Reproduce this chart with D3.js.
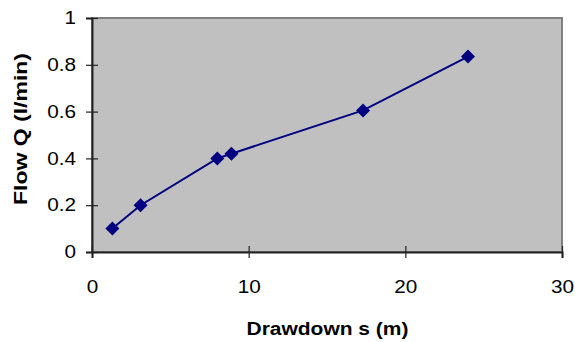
<!DOCTYPE html>
<html>
<head>
<meta charset="utf-8">
<script src="https://cdn.jsdelivr.net/npm/d3@7"></script>
<style>
  body { margin: 0; background: #fff; }
  svg { display: block; font-family: Arial, "Liberation Sans", sans-serif; }
</style>
</head>
<body>
<svg id="chart" width="575" height="342"></svg>
<script>
'use strict';

const drawdown = [1.3, 3.1, 8.0, 8.9, 17.3, 24.0];
const flow = [0.1, 0.2, 0.4, 0.42, 0.605, 0.835];
const xTicks = [0, 10, 20, 30];
const yTicks = [0, 0.2, 0.4, 0.6, 0.8, 1];

const svg = d3.select("#chart");
const plot = { left: 92, right: 562, top: 18, bottom: 252 };
const stretch = 1.15; // text in the original is a bit wide

const x = d3.scaleLinear().domain([0, 30]).range([plot.left, plot.right]);
const y = d3.scaleLinear().domain([0, 1]).range([plot.bottom, plot.top]);

// plot area
svg.append("rect")
  .attr("x", plot.left).attr("y", plot.top)
  .attr("width", plot.right - plot.left).attr("height", plot.bottom - plot.top)
  .attr("fill", "#c0c0c0")
  .attr("stroke", "#808080")
  .attr("stroke-width", 2);

// axes
const xAxis = d3.axisBottom(x).tickValues(xTicks).tickSize(6).tickPadding(22).tickFormat(d3.format("d"));
const yAxis = d3.axisLeft(y).tickValues(yTicks).tickSize(6).tickPadding(10).tickFormat(d => d === 0 || d === 1 ? d : d3.format(".1f")(d));

const gx = svg.append("g").attr("transform", `translate(0,${plot.bottom})`).call(xAxis);
const gy = svg.append("g").attr("transform", `translate(${plot.left},0)`).call(yAxis);

[gx, gy].forEach(g => {
  g.select(".domain").attr("stroke", "#222").attr("stroke-width", 2);
  g.selectAll(".tick line").attr("stroke", "#222").attr("stroke-width", 1.2);
  g.selectAll(".tick text").attr("fill", "#000").style("font-size", "18px")
    .each(function() {
      this.setAttribute("textLength", this.getComputedTextLength() * stretch);
      this.setAttribute("lengthAdjust", "spacingAndGlyphs");
    });
});
// crossing ticks
gx.selectAll(".tick line").attr("y1", -6).attr("y2", 6);
gy.selectAll(".tick line").attr("x1", 6).attr("x2", -6);

// series line
const line = d3.line().x((d, i) => x(drawdown[i])).y(d => y(d));
svg.append("path")
  .datum(flow)
  .attr("d", line)
  .attr("fill", "none")
  .attr("stroke", "#000080")
  .attr("stroke-width", 2);

// diamond markers
svg.append("g").selectAll("path")
  .data(flow)
  .join("path")
  .attr("transform", (d, i) => `translate(${x(drawdown[i])},${y(d)})`)
  .attr("d", "M0,-7L7,0L0,7L-7,0Z")
  .attr("fill", "#000080");

// axis titles
svg.append("text")
  .attr("x", 327.5).attr("y", 335)
  .attr("text-anchor", "middle")
  .attr("textLength", 162).attr("lengthAdjust", "spacingAndGlyphs")
  .style("font-size", "17.5px").style("font-weight", "bold")
  .text("Drawdown s (m)");

svg.append("text")
  .attr("transform", "translate(27,129) rotate(-90)")
  .attr("text-anchor", "middle")
  .attr("textLength", 152).attr("lengthAdjust", "spacingAndGlyphs")
  .style("font-size", "17.5px").style("font-weight", "bold")
  .text("Flow Q (l/min)");
</script>
</body>
</html>
